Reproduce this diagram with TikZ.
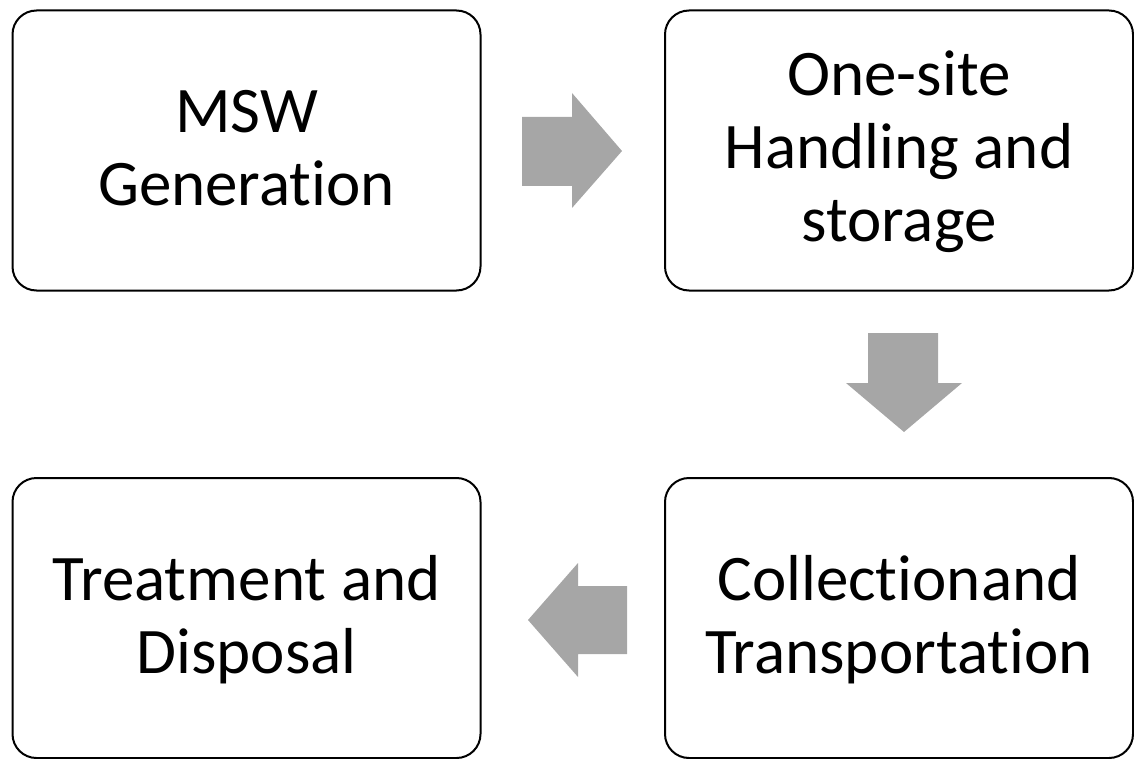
\documentclass[tikz,border=0pt]{standalone}
\usepackage{fontspec}
\setmainfont[Ligatures=NoCommon]{Carlito}
\definecolor{arrowgray}{RGB}{166,166,166}
\newcommand{\lnstrut}{\rule[-15pt]{0pt}{67pt}}
\tikzset{
  stepbox/.style={draw=black, line width=2pt, rounded corners=24pt, fill=white,
    minimum width=468pt, minimum height=280pt, align=center,
    font=\fontsize{65}{73}\selectfont, inner sep=0pt},
  garrow/.style={fill=arrowgray, draw=none}
}
\begin{document}
\begin{tikzpicture}[x=1pt,y=-1pt]
\useasboundingbox (0,0) rectangle (1134,759);
\node[stepbox] (gen) at (246.5,150.5) {\lnstrut MSW\\\lnstrut Generation};
\node[stepbox] (hand) at (899,150.5) {\lnstrut One-site\\\lnstrut Handling and\\\lnstrut storage};
\node[stepbox] (coll) at (899,618) {\lnstrut Collectionand\\\lnstrut Transportation};
\node[stepbox] (treat) at (246.5,618) {\lnstrut Treatment and\\\lnstrut Disposal};
% right arrow
\fill[garrow] (522,117) -- (572,117) -- (572,93) -- (622,151) -- (572,208) -- (572,186) -- (522,186) -- cycle;
% down arrow
\fill[garrow] (868,333) -- (938,333) -- (938,383) -- (962,383) -- (904,432) -- (846,383) -- (868,383) -- cycle;
% left arrow
\fill[garrow] (627,586) -- (578,586) -- (578,563) -- (528,620) -- (578,677) -- (578,654) -- (627,654) -- cycle;
\end{tikzpicture}
\end{document}
